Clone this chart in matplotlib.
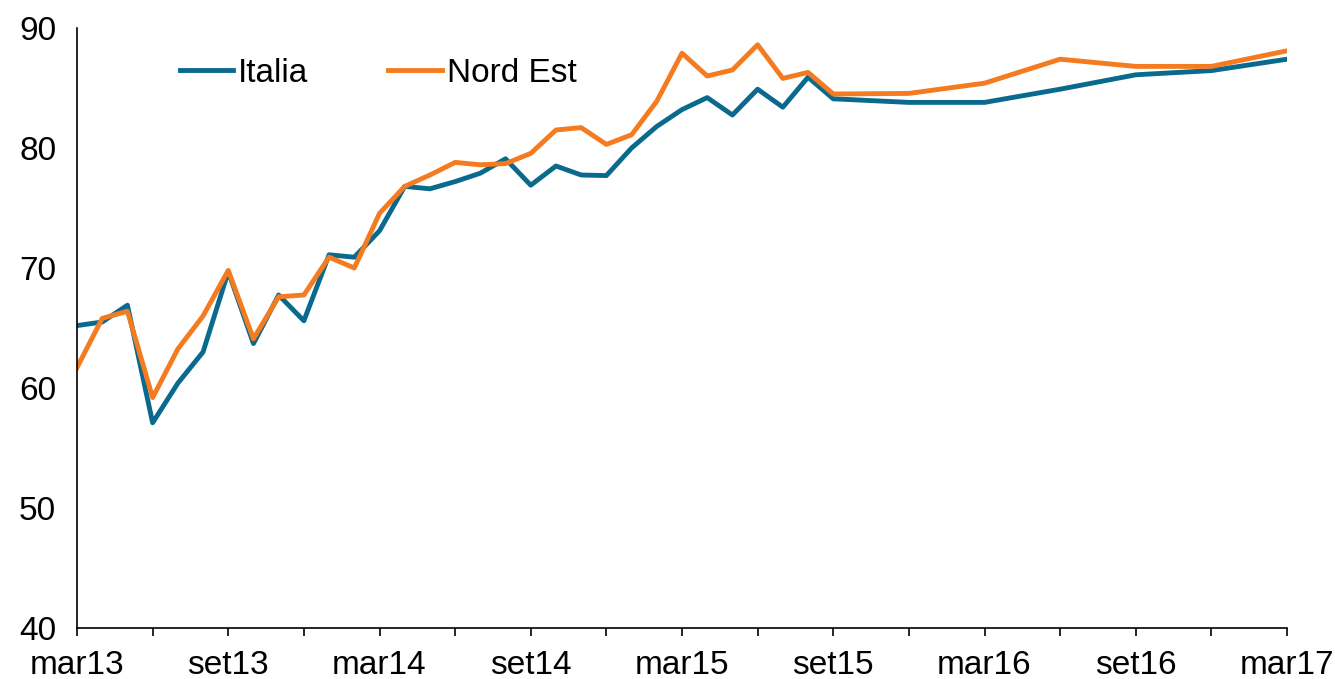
import matplotlib.pyplot as plt
import numpy as np

plt.rcParams['font.family'] = ['Liberation Sans', 'DejaVu Sans']

# months since mar13: monthly until set15, then quarterly
months = list(range(0, 31)) + [33, 36, 39, 42, 45, 48]

italia = [65.2, 65.5, 66.9, 57.1, 60.4, 63.0, 69.7, 63.7, 67.75, 65.6,
          71.1, 70.9, 73.1, 76.8, 76.6, 77.2, 77.9, 79.1, 76.9, 78.5,
          77.75, 77.7, 80.0, 81.8, 83.2, 84.2, 82.75, 84.9, 83.4, 85.9,
          84.1, 83.8, 83.8, 84.9, 86.1, 86.45, 87.4]
nord_est = [61.7, 65.8, 66.4, 59.2, 63.25, 66.0, 69.8, 64.1, 67.6, 67.75,
            70.9, 70.0, 74.55, 76.8, 77.75, 78.8, 78.6, 78.7, 79.55, 81.5,
            81.7, 80.3, 81.1, 83.9, 87.9, 86.0, 86.5, 88.6, 85.8, 86.3,
            84.5, 84.55, 85.4, 87.4, 86.8, 86.8, 88.1]

tick_labels = ['mar13', 'set13', 'mar14', 'set14', 'mar15', 'set15',
               'mar16', 'set16', 'mar17']

fig = plt.figure(figsize=(13.35, 6.79), dpi=100)
ax = fig.add_axes([77/1335, 1 - 628/679, 1210/1335, 600/679])

ax.plot(months, italia, color='#0A6A8E', lw=3.5, label='Italia')
ax.plot(months, nord_est, color='#F47B20', lw=3.5, label='Nord Est')

ax.set_xlim(0, 48)
ax.set_ylim(40, 90)
ax.set_yticks(np.arange(40, 91, 10))
ax.set_xticks(np.arange(0, 49, 6))
ax.set_xticklabels(tick_labels)
ax.set_xticks(np.arange(3, 48, 6), minor=True)

for s in ['top', 'right']:
    ax.spines[s].set_visible(False)
for s in ['left', 'bottom']:
    ax.spines[s].set_linewidth(1.2)

ax.tick_params(axis='y', length=0, labelsize=24, pad=15)
ax.tick_params(axis='x', which='both', direction='out', length=6, width=1.2,
               labelsize=24, pad=10)

ax.legend(loc='center left', bbox_to_anchor=(0.085, 0.925), ncol=2, frameon=False,
          fontsize=24, handlelength=1.6, handletextpad=0.15, columnspacing=2.4,
          borderaxespad=0, borderpad=0)

fig.savefig('out.png', dpi=100)
